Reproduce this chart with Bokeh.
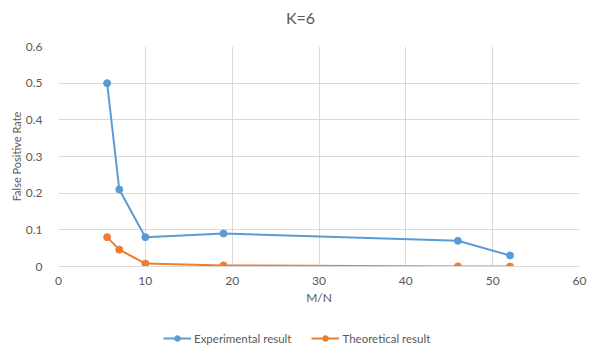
from bokeh.plotting import figure
from bokeh.models import Legend, LegendItem, FixedTicker, CustomJSTickFormatter, Range1d
from bokeh.core.properties import value
from bokeh.layouts import column
from bokeh.embed import file_html
from bokeh.resources import INLINE

mn = [5.6, 7, 10, 19, 46, 52]
experimental = [0.50, 0.21, 0.08, 0.09, 0.07, 0.03]
theoretical = [0.08, 0.046, 0.008, 0.003, 0.0003, 0.0001]
x_ticks = [0, 10, 20, 30, 40, 50, 60]
y_ticks = [0, 0.1, 0.2, 0.3, 0.4, 0.5, 0.6]
title_text = "K=6"
series_names = ["Experimental result", "Theoretical result"]

FONT = "Lato"
GREY = "#595959"
BLUE = "#5B9BD5"
ORANGE = "#ED7D31"


def blank(height):
    f = figure(width=590, height=height, output_backend="svg", toolbar_location=None,
               x_range=Range1d(0, 1), y_range=Range1d(0, 1),
               x_axis_type=None, y_axis_type=None, min_border=0)
    f.outline_line_color = None
    f.xgrid.visible = False
    f.ygrid.visible = False
    return f


# title strip (frame aligned with the main plot frame: x 58..579)
pt = blank(38)
pt.text(x=[0.4645], y=[0.55], text=[title_text], text_align="center", text_baseline="middle",
        text_font=value(FONT), text_font_size="16px", text_color=GREY)

# main plot
p = figure(frame_width=521, frame_height=220, output_backend="svg", toolbar_location=None,
           x_range=Range1d(0, 60), y_range=Range1d(0, 0.6),
           min_border_left=58, min_border_right=11, min_border_top=8, min_border_bottom=54)
p.outline_line_color = None

p.xaxis.ticker = FixedTicker(ticks=x_ticks)
p.yaxis.ticker = FixedTicker(ticks=y_ticks)
p.yaxis.formatter = CustomJSTickFormatter(code="return tick == 0 ? '0' : tick.toFixed(1);")
for ax in (p.xaxis, p.yaxis):
    ax.major_tick_line_color = None
    ax.minor_tick_line_color = None
    ax.major_label_text_font = FONT
    ax.major_label_text_font_size = "12px"
    ax.major_label_text_color = GREY
    ax.axis_label_text_font = FONT
    ax.axis_label_text_color = GREY
    ax.axis_label_text_font_style = "normal"
p.xaxis.axis_line_color = "#D9D9D9"
p.yaxis.axis_line_color = None
p.xaxis.axis_label = "M/N"
p.xaxis.axis_label_text_font_size = "12px"
p.yaxis.axis_label = "False Positive Rate"
p.yaxis.axis_label_text_font_size = "11px"
p.xaxis.major_label_standoff = 4
p.yaxis.major_label_standoff = 10
p.xaxis.axis_label_standoff = 2
p.yaxis.axis_label_standoff = 0

p.xgrid.grid_line_color = "#D9D9D9"
p.ygrid.grid_line_color = "#D9D9D9"

p.line(mn, experimental, line_color=BLUE, line_width=2)
p.scatter(mn, experimental, size=7, fill_color=BLUE, line_color=BLUE)
p.line(mn, theoretical, line_color=ORANGE, line_width=2)
p.scatter(mn, theoretical, size=7, fill_color=ORANGE, line_color=ORANGE)

# legend strip (swatch renderers hold one point outside the visible range)
pl = blank(29)
ll1 = pl.line([-1, -2], [-1, -2], line_color=BLUE, line_width=2)
ls1 = pl.scatter([-1], [-1], size=7, fill_color=BLUE, line_color=BLUE)
ll2 = pl.line([-1, -2], [-1, -2], line_color=ORANGE, line_width=2)
ls2 = pl.scatter([-1], [-1], size=7, fill_color=ORANGE, line_color=ORANGE)
legend = Legend(items=[LegendItem(label=series_names[0], renderers=[ll1, ls1]),
                       LegendItem(label=series_names[1], renderers=[ll2, ls2])],
                orientation="horizontal", location=(105, 4),
                label_text_font=FONT, label_text_font_size="11.5px", label_text_color=GREY,
                border_line_color=None, background_fill_alpha=0,
                glyph_width=28, glyph_height=14, spacing=20, label_standoff=3, margin=0, padding=0)
pl.add_layout(legend, "center")

layout = column(pt, p, pl, spacing=0)
open("out.html", "w").write(file_html(layout, INLINE))
